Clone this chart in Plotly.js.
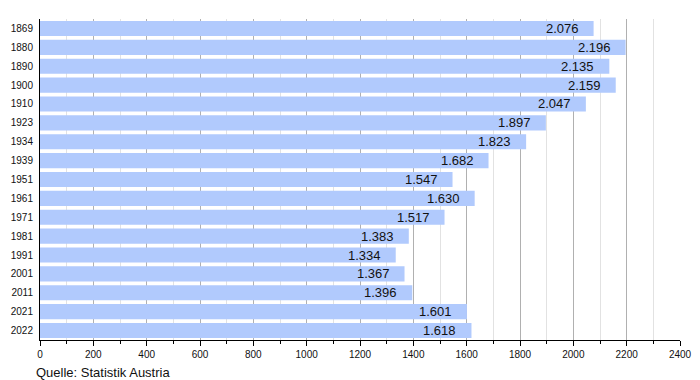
<!DOCTYPE html>
<html><head><meta charset="utf-8">
<script src="https://cdn.plot.ly/plotly-3.0.1.min.js"></script>
<style>html,body{margin:0;padding:0;background:#fff}</style>
</head><body>
<div id="chart" style="width:700px;height:380px"></div>
<script>
const years = ["1869","1880","1890","1900","1910","1923","1934","1939","1951","1961","1971","1981","1991","2001","2011","2021","2022"];
const population = [2076,2196,2135,2159,2047,1897,1823,1682,1547,1630,1517,1383,1334,1367,1396,1601,1618];
const xTicks = [0,200,400,600,800,1000,1200,1400,1600,1800,2000,2200,2400];
const sourceText = "Quelle: Statistik Austria";

function fmt(v){ const s=String(v); return s.length>3 ? s.slice(0,s.length-3)+"."+s.slice(-3) : s; }

const trace = {
  type:'bar', orientation:'h', x:population, y:years,
  marker:{color:'#b1cafd', line:{width:0}},
  hoverinfo:'none'
};
const ann = years.map((y,i)=>({
  x:population[i], y:i, xref:'x', yref:'y', text:fmt(population[i]),
  showarrow:false, xanchor:'right', yanchor:'middle', xshift:-13,
  font:{family:'Liberation Sans, Arial, sans-serif', size:13, color:'#111'}
}));
ann.push({xref:'paper', yref:'paper', x:-0.01, y:-0.1, xanchor:'left', yanchor:'middle',
  text:sourceText, showarrow:false, font:{family:'Liberation Sans, Arial, sans-serif', size:13, color:'#111'}});

const layout = {
  width:700, height:380,
  margin:{l:40, r:20, t:19, b:40},
  paper_bgcolor:'#fff', plot_bgcolor:'#fff',
  bargap:0.2, showlegend:false,
  font:{family:'Liberation Sans, Arial, sans-serif', color:'#111'},
  xaxis:{range:[0,2400], tickvals:xTicks, ticktext:xTicks.map(String),
    showgrid:true, gridcolor:'#b0b0b0', gridwidth:1,
    ticks:'outside', ticklen:5, tickcolor:'#000', tickwidth:1,
    showline:true, linecolor:'#000', linewidth:1, zeroline:false,
    tickfont:{size:10}, fixedrange:true,
    minor:{dtick:100, tick0:0, showgrid:true, gridcolor:'#e2e2e2', ticks:'outside', ticklen:3, tickcolor:'#000'}},
  yaxis:{type:'category', categoryorder:'array', categoryarray:years, range:[years.length-0.5,-0.5], showgrid:false, ticks:'',
    showline:true, linecolor:'#000', linewidth:1, zeroline:false,
    tickfont:{size:10}, ticklabelstandoff:4, fixedrange:true},
  annotations:ann
};
Plotly.newPlot('chart',[trace],layout,{staticPlot:true});
</script>
</body></html>
